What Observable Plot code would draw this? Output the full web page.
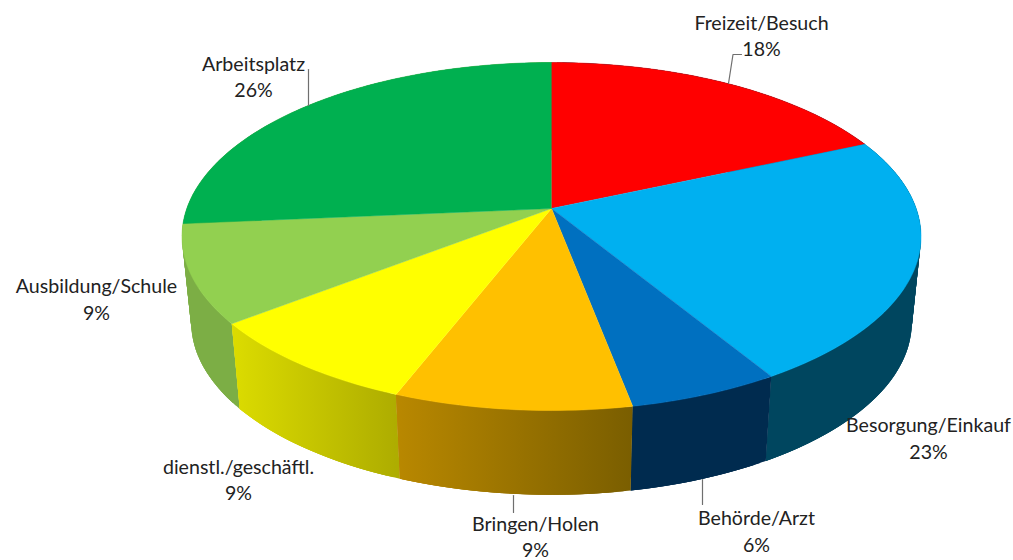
<!DOCTYPE html>
<html>
<head>
<meta charset="utf-8">
<style>html,body{margin:0;padding:0;background:#fff}svg{display:block}</style>
<script src="https://cdn.jsdelivr.net/npm/d3@7"></script>
<script src="https://cdn.jsdelivr.net/npm/@observablehq/plot@0.6"></script>
</head>
<body>
<div id="chart"></div>
<script>
// Data
const categories = ["Freizeit/Besuch","Besorgung/Einkauf","Behörde/Arzt","Bringen/Holen","dienstl./geschäftl.","Ausbildung/Schule","Arbeitsplatz"];
const shares = [18.4, 22.9, 5.7, 8.9, 8.6, 9.1, 26.4];
const topColors = ["#ff0000","#00b0f0","#0070c0","#ffc000","#ffff00","#92d050","#00b050"];
const wallFrom = ["#004662","#00465f","#002b4f","#b98800","#dcdc00","#7cae45","#7cae45"];
const wallTo   = ["#004662","#00465f","#002b4f","#7a5e00","#aead00","#7cae45","#7cae45"];

// Layout of the tilted disc (perspective projection of a circle)
const cx = 551, cy = 208, ax = 364.7, ay = 169.5, k = 0.161;
const midY = 236, depthX = 0.975, depthY = 0.99, bottomMid = 322;
const topPoint = (f) => {
  const a = f * 2 * Math.PI, w = 1 + k * Math.cos(a);
  return [cx + ax * Math.sin(a) / w, cy - ay * Math.cos(a) / w];
};
const bottomPoint = (f) => {
  const [x, y] = topPoint(f);
  return [cx + depthX * (x - cx), bottomMid + depthY * (y - midY)];
};
const total = d3.sum(shares);
const edges = [0, ...d3.cumsum(shares).map((v) => v / total)];
const arcFractions = (i) => {
  const n = Math.max(8, Math.ceil((edges[i + 1] - edges[i]) * 360));
  return d3.range(n + 1).map((j) => edges[i] + (edges[i + 1] - edges[i]) * j / n);
};
const row = ([x, y]) => ({x, y});
const topFace = (i) => [row([cx, cy]), ...arcFractions(i).map(topPoint).map(row)];
// A wall is a run of overlapping quads between the upper and the lower rim:
// the silhouette is covered and the overlaps leave no seams.
const wallFace = (i) => {
  const fs = arcFractions(i);
  return d3.range(fs.length - 1).flatMap((j) => {
    const a = fs[j], b = fs[Math.min(j + 3, fs.length - 1)];
    return [topPoint(a), topPoint(b), bottomPoint(b), bottomPoint(a)].map(([x, y]) => ({x, y, z: j}));
  });
};

const gradients = () => {
  const defs = d3.create("svg:defs");
  categories.forEach((c, i) => {
    const xs = arcFractions(i).map((f) => topPoint(f)[0]);
    const ends = [xs[0], xs[xs.length - 1]];
    const left = d3.min(ends), right = d3.max(ends);
    const g = defs.append("linearGradient").attr("id", "wall" + i)
      .attr("gradientUnits", "userSpaceOnUse")
      .attr("x1", left).attr("x2", right).attr("y1", 0).attr("y2", 0);
    g.append("stop").attr("offset", 0).attr("stop-color", wallFrom[i]);
    g.append("stop").attr("offset", 1).attr("stop-color", wallTo[i]);
  });
  return defs.node();
};

const labelX = [761, 928, 756, 535, 238, 96, 253];
const labelY = [34, 436.5, 529.5, 535, 478, 297.5, 75];
const labels = categories.map((c, i) => ({x: labelX[i], y: labelY[i], text: c + "\n" + Math.round(shares[i]) + "%"}));
const leaders = [
  [[728,83],[732.5,54],[741,54]],
  [[308,105],[308,69]],
  [[513,495],[513,512]],
  [[702,479],[702,504]]
];

const order = [6,0,5,1,4,2,3];
const chart = Plot.plot({
  width: 1013, height: 560,
  marginTop: 0, marginRight: 0, marginBottom: 0, marginLeft: 0,
  x: {domain: [0, 1013], range: [0, 1013], axis: null},
  y: {domain: [0, 560], range: [0, 560], axis: null},
  style: {background: "#fff"},
  marks: [
    gradients,
    ...order.map((i) => Plot.line(wallFace(i), {x: "x", y: "y", z: "z", fill: `url(#wall${i})`, stroke: "none"})),
    ...[0,1,2,3,4,5,6].map((i) => Plot.line(topFace(i), {x: "x", y: "y", fill: topColors[i], stroke: topColors[i], strokeWidth: 0.5})),
    ...leaders.map((l) => Plot.line(l.map(row), {x: "x", y: "y", stroke: "#6f6f6f", strokeWidth: 1.2})),
    Plot.text(labels, {x: "x", y: "y", text: "text", fontSize: 19.6, lineHeight: 1.34, fill: "#222", fontFamily: "Lato, 'Open Sans', sans-serif"})
  ]
});
document.getElementById("chart").append(chart);
</script>
</body>
</html>
